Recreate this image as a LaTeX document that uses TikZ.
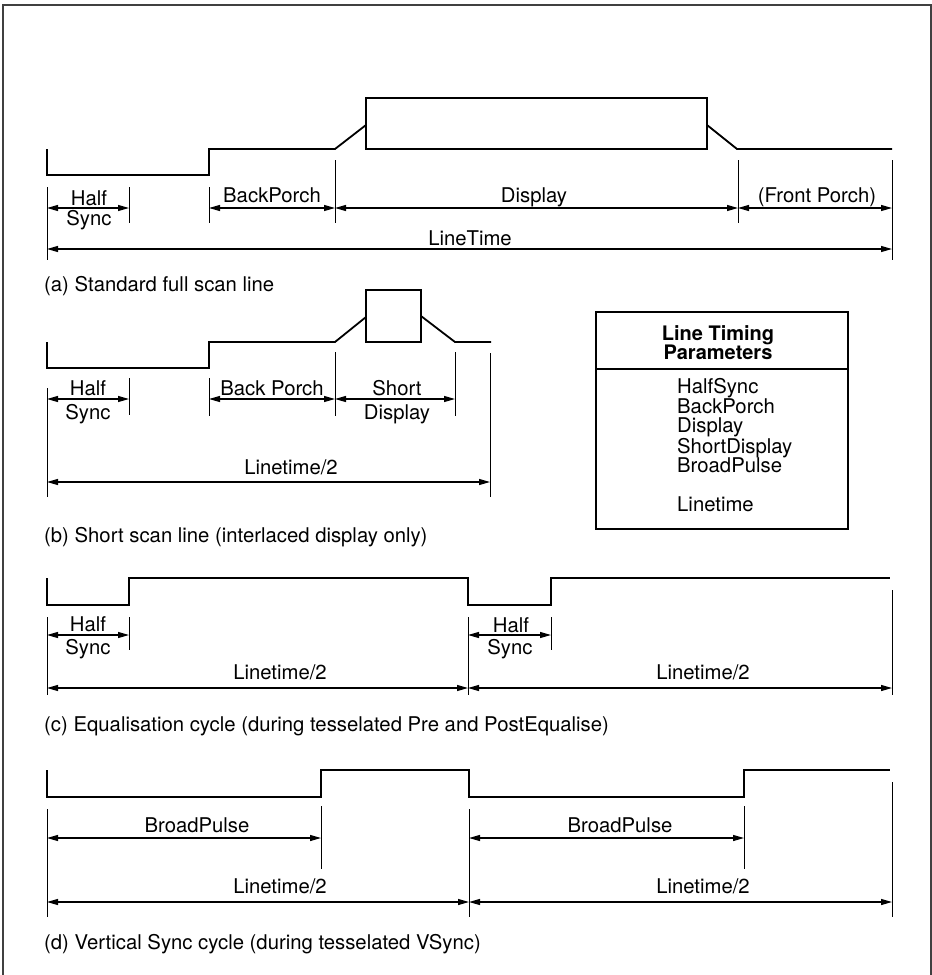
\documentclass[tikz,border=0pt]{standalone}
\usepackage{fontspec}
\setmainfont{TeX Gyre Heros}
\usetikzlibrary{arrows.meta}
\begin{document}
\begin{tikzpicture}[x=1pt,y=-1pt,
  sig/.style={line width=1.8pt, line join=miter},
  dimarrow/.style={line width=1.2pt, {Triangle[length=11pt,width=6pt]}-{Triangle[length=11pt,width=6pt]}},
  tickline/.style={line width=1pt},
  lbl/.style={anchor=base, inner sep=0pt, font=\fontsize{20.3}{21}\selectfont},
  captext/.style={anchor=base west, inner sep=0pt, font=\fontsize{20.3}{21}\selectfont},
  item/.style={anchor=base west, inner sep=0pt, font=\fontsize{20.3}{21}\selectfont},
  ttl/.style={anchor=base, inner sep=0pt, font=\fontsize{20}{21}\selectfont\bfseries},
]
\useasboundingbox (0,0) rectangle (932,975);
% outer frame
\draw[line width=1.8pt, black!75] (3,975) -- (3,5) -- (931,5) -- (931,975);

% ---------------- (a) ----------------
\draw[sig] (47,149) -- (47,175) -- (209,175) -- (209,149) -- (335,149) -- (366,125);
\draw[sig] (366,98) rectangle (707,149);
\draw[sig] (707,125) -- (737,149) -- (892,149);
\draw[tickline] (47,187) -- (47,260);
\draw[tickline] (129,187) -- (129,223);
\draw[tickline] (209,187) -- (209,223);
\draw[tickline] (335,160) -- (335,223);
\draw[tickline] (738,160) -- (738,223);
\draw[tickline] (892,160) -- (892,260);
\coordinate (a0) at (47,208);
\coordinate (a1) at (129,208);
\coordinate (a2) at (209,208);
\coordinate (a3) at (335,208);
\coordinate (a4) at (738,208);
\coordinate (a5) at (892,208);
\coordinate (aL0) at (47,249);
\coordinate (aL1) at (892,249);
\draw[dimarrow] (a0) -- (a1);
\draw[dimarrow] (a2) -- (a3);
\draw[dimarrow] (a3) -- (a4);
\draw[dimarrow] (a4) -- (a5);
\draw[dimarrow] (aL0) -- (aL1);
\node[lbl] (aHalf) at (89,205) {Half};
\node[lbl] (aSync) at (89,225) {Sync};
\node[lbl] (aBP) at (272,202) {BackPorch};
\node[lbl] (aDisp) at (534,202) {Display};
\node[lbl] (aFP) at (817,202) {(Front Porch)};
\node[lbl] (aLT) at (470,245) {LineTime};
\node[captext] (aCap) at (44,291) {(a) Standard full scan line};

% ---------------- (b) ----------------
\draw[sig] (47,342) -- (47,368) -- (209,368) -- (209,342) -- (335,342) -- (366,317);
\draw[sig] (366,290) rectangle (421,342);
\draw[sig] (421,316) -- (455,342) -- (491,342);
\draw[tickline] (47,388) -- (47,497);
\draw[tickline] (129,378) -- (129,415);
\draw[tickline] (209,378) -- (209,416);
\draw[tickline] (335,352) -- (335,416);
\draw[tickline] (455,352) -- (455,416);
\draw[tickline] (490,353) -- (490,497);
\coordinate (b0) at (47,399);
\coordinate (b1) at (129,399);
\coordinate (b2) at (209,399);
\coordinate (b3) at (335,399);
\coordinate (b4) at (455,399);
\coordinate (bL0) at (47,482);
\coordinate (bL1) at (490,482);
\draw[dimarrow] (b0) -- (b1);
\draw[dimarrow] (b2) -- (b3);
\draw[dimarrow] (b3) -- (b4);
\draw[dimarrow] (bL0) -- (bL1);
\node[lbl] (bHalf) at (88,395) {Half};
\node[lbl] (bSync) at (88,419) {Sync};
\node[lbl] (bBP) at (272,395) {Back Porch};
\node[lbl] (bShort) at (397,395) {Short};
\node[lbl] (bDisp) at (397,419) {Display};
\node[lbl] (bLT) at (291,474) {Linetime/2};
\node[captext] (bCap) at (44,542) {(b) Short scan line (interlaced display only)};

% ---------------- table ----------------
\draw[line width=1.5pt] (596,312) rectangle (848,529);
\draw[line width=1.5pt] (596,369) -- (848,369);
\node[ttl] (tt1) at (718,340) {Line Timing};
\node[ttl] (tt2) at (718,359) {Parameters};
\node[item] (t1) at (677,393) {HalfSync};
\node[item] (t2) at (677,413) {BackPorch};
\node[item] (t3) at (677,432) {Display};
\node[item] (t4) at (677,453) {ShortDisplay};
\node[item] (t5) at (677,472) {BroadPulse};
\node[item] (t6) at (677,511) {Linetime};

% ---------------- (c) ----------------
\draw[sig] (47,578) -- (47,605) -- (129,605) -- (129,578) -- (468,578) -- (468,605) -- (551,605) -- (551,578) -- (890,578);
\draw[tickline] (47,617) -- (47,695);
\draw[tickline] (129,617) -- (129,650);
\draw[tickline] (468,617) -- (468,695);
\draw[tickline] (551,617) -- (551,650);
\draw[tickline] (892,590) -- (892,695);
\coordinate (c0) at (47,635);
\coordinate (c1) at (129,635);
\coordinate (c2) at (468,635);
\coordinate (c3) at (551,635);
\coordinate (cL0) at (47,688);
\coordinate (cL1) at (468,688);
\coordinate (cL2) at (892,688);
\draw[dimarrow] (c0) -- (c1);
\draw[dimarrow] (c2) -- (c3);
\draw[dimarrow] (cL0) -- (cL1);
\draw[dimarrow] (cL1) -- (cL2);
\node[lbl] (cHalf1) at (88,631) {Half};
\node[lbl] (cSync1) at (88,654) {Sync};
\node[lbl] (cHalf2) at (511,632) {Half};
\node[lbl] (cSync2) at (510,654) {Sync};
\node[lbl] (cLT1) at (280,679) {Linetime/2};
\node[lbl] (cLT2) at (703,679) {Linetime/2};
\node[captext] (cCap) at (44,731) {(c) Equalisation cycle (during tesselated Pre and PostEqualise)};

% ---------------- (d) ----------------
\draw[sig] (47,770) -- (47,797) -- (321,797) -- (321,770) -- (469,770) -- (469,797) -- (744,797) -- (744,770) -- (890,770);
\draw[tickline] (47,809) -- (47,917);
\draw[tickline] (321,806) -- (321,869);
\draw[tickline] (469,809) -- (469,917);
\draw[tickline] (744,806) -- (744,869);
\draw[tickline] (892,782) -- (892,917);
\coordinate (d0) at (47,838);
\coordinate (d1) at (321,838);
\coordinate (d2) at (469,838);
\coordinate (d3) at (744,838);
\coordinate (dL0) at (47,902);
\coordinate (dL1) at (469,902);
\coordinate (dL2) at (892,902);
\draw[dimarrow] (d0) -- (d1);
\draw[dimarrow] (d2) -- (d3);
\draw[dimarrow] (dL0) -- (dL1);
\draw[dimarrow] (dL1) -- (dL2);
\node[lbl] (dBP1) at (197,832) {BroadPulse};
\node[lbl] (dBP2) at (620,832) {BroadPulse};
\node[lbl] (dLT1) at (280,893) {Linetime/2};
\node[lbl] (dLT2) at (703,893) {Linetime/2};
\node[captext] (dCap) at (44,949) {(d) Vertical Sync cycle (during tesselated VSync)};
\end{tikzpicture}
\end{document}
